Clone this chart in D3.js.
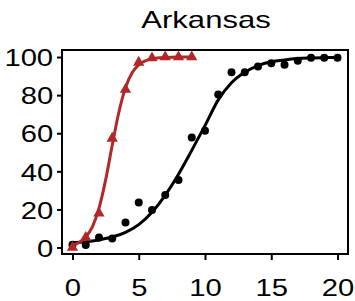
<!DOCTYPE html>
<html>
<head>
<meta charset="utf-8">
<script src="https://cdn.jsdelivr.net/npm/d3@7"></script>
<style>
  body { margin: 0; background: #fff; }
  text { font-family: "Liberation Sans", Arial, sans-serif; fill: #000; }
</style>
</head>
<body>
<div id="myChart"></div>
<script>
// observed data, Arkansas
const days = [0, 1, 2, 3, 4, 5, 6, 7, 8, 9, 10, 11, 12, 13, 14, 15, 16, 17, 18, 19, 20];
const blackValues = [1.5, 1.3, 5.3, 4.8, 13.2, 23.7, 19.7, 27.6, 35.4, 57.8, 61.3, 80.4, 92, 92, 95, 96.7, 96, 98, 99.6, 99.6, 99.6];
const redDays = [0, 1, 2, 3, 4, 5, 6, 7, 8, 9];
const redValues = [0, 5.3, 18, 57.3, 83, 97.2, 99.5, 100, 100, 100];

// fitted curves
const blackFitX = [0, 1, 2, 3, 4, 5, 6, 7, 8, 9, 10, 11, 12, 13, 14, 15, 16, 17, 18, 19, 20];
const blackFitY = [2.5, 3, 4, 5.5, 8, 12, 18.5, 27.5, 38.5, 51, 64, 77.5, 86.5, 92, 95.5, 97.5, 98.5, 99.2, 99.5, 99.7, 99.8];
const redFitX = [0, 0.5, 1, 1.5, 2, 2.5, 3, 3.5, 4, 4.5, 5, 5.5, 6, 7, 8, 9];
const redFitY = [1.3, 2.6, 5.5, 10.9, 20.6, 35.4, 53.7, 71, 83.9, 91.7, 95.9, 98, 99.1, 99.8, 100, 100];

const xTicks = [0, 5, 10, 15, 20];
const yTicks = [0, 20, 40, 60, 80, 100];
const title = "Arkansas";

const margin = { top: 50, right: 7, bottom: 47, left: 62 },
  width = 355 - margin.left - margin.right,
  height = 301 - margin.top - margin.bottom;
const stretch = 1.27; // text in the original is drawn wide

const svg = d3
  .select("#myChart")
  .append("svg")
  .attr("width", 355)
  .attr("height", 301)
  .append("g")
  .attr("transform", "translate(" + margin.left + "," + margin.top + ")");

const x = d3.scaleLinear().domain([-0.79, 20.79]).range([0, width]);
const y = d3.scaleLinear().domain([-3.4, 103.7]).range([height, 0]);

// title
svg
  .append("text")
  .attr("transform", "translate(" + (width / 2 + 1) + ",-22) scale(1.35,1)")
  .attr("text-anchor", "middle")
  .style("font-size", "23px")
  .text(title);

// axes
const xAxis = svg
  .append("g")
  .attr("transform", "translate(0," + height + ")")
  .call(d3.axisBottom(x).tickValues(xTicks).tickSize(6).tickPadding(20).tickSizeOuter(0));
xAxis.select(".domain").remove();
xAxis.selectAll("line").attr("stroke-width", 2);
xAxis
  .selectAll("text")
  .attr("transform", "scale(" + stretch + ",1)")
  .style("font-size", "23px");

const yAxis = svg
  .append("g")
  .call(d3.axisLeft(y).tickValues(yTicks).tickSize(5).tickPadding(2).tickSizeOuter(0));
yAxis.select(".domain").remove();
yAxis.selectAll("line").attr("stroke-width", 2);
yAxis
  .selectAll("text")
  .attr("transform", "scale(" + stretch + ",1)")
  .attr("dy", "0.38em")
  .style("font-size", "23px");

// box
svg
  .append("rect")
  .attr("width", width)
  .attr("height", height)
  .attr("fill", "none")
  .attr("stroke", "#000")
  .attr("stroke-width", 2);

const line = d3
  .line()
  .x((d) => x(d[0]))
  .y((d) => y(d[1]))
  .curve(d3.curveMonotoneX);

// black series
svg
  .append("path")
  .datum(blackFitX.map((v, i) => [v, blackFitY[i]]))
  .attr("d", line)
  .attr("fill", "none")
  .attr("stroke", "#000")
  .attr("stroke-width", 3);

svg
  .selectAll(".dot")
  .data(days)
  .enter()
  .append("circle")
  .attr("class", "dot")
  .attr("cx", (d) => x(d))
  .attr("cy", (d, i) => y(blackValues[i]))
  .attr("r", 4)
  .attr("fill", "#000");

// red series
const red = "#b22828";
svg
  .append("path")
  .datum(redFitX.map((v, i) => [v, redFitY[i]]))
  .attr("d", line)
  .attr("fill", "none")
  .attr("stroke", red)
  .attr("stroke-width", 3);

svg
  .selectAll(".tri")
  .data(redDays)
  .enter()
  .append("path")
  .attr("class", "tri")
  .attr("d", d3.symbol().type(d3.symbolTriangle).size(55))
  .attr("transform", (d, i) => "translate(" + x(d) + "," + y(redValues[i]) + ")")
  .attr("fill", red);
</script>
</body>
</html>
